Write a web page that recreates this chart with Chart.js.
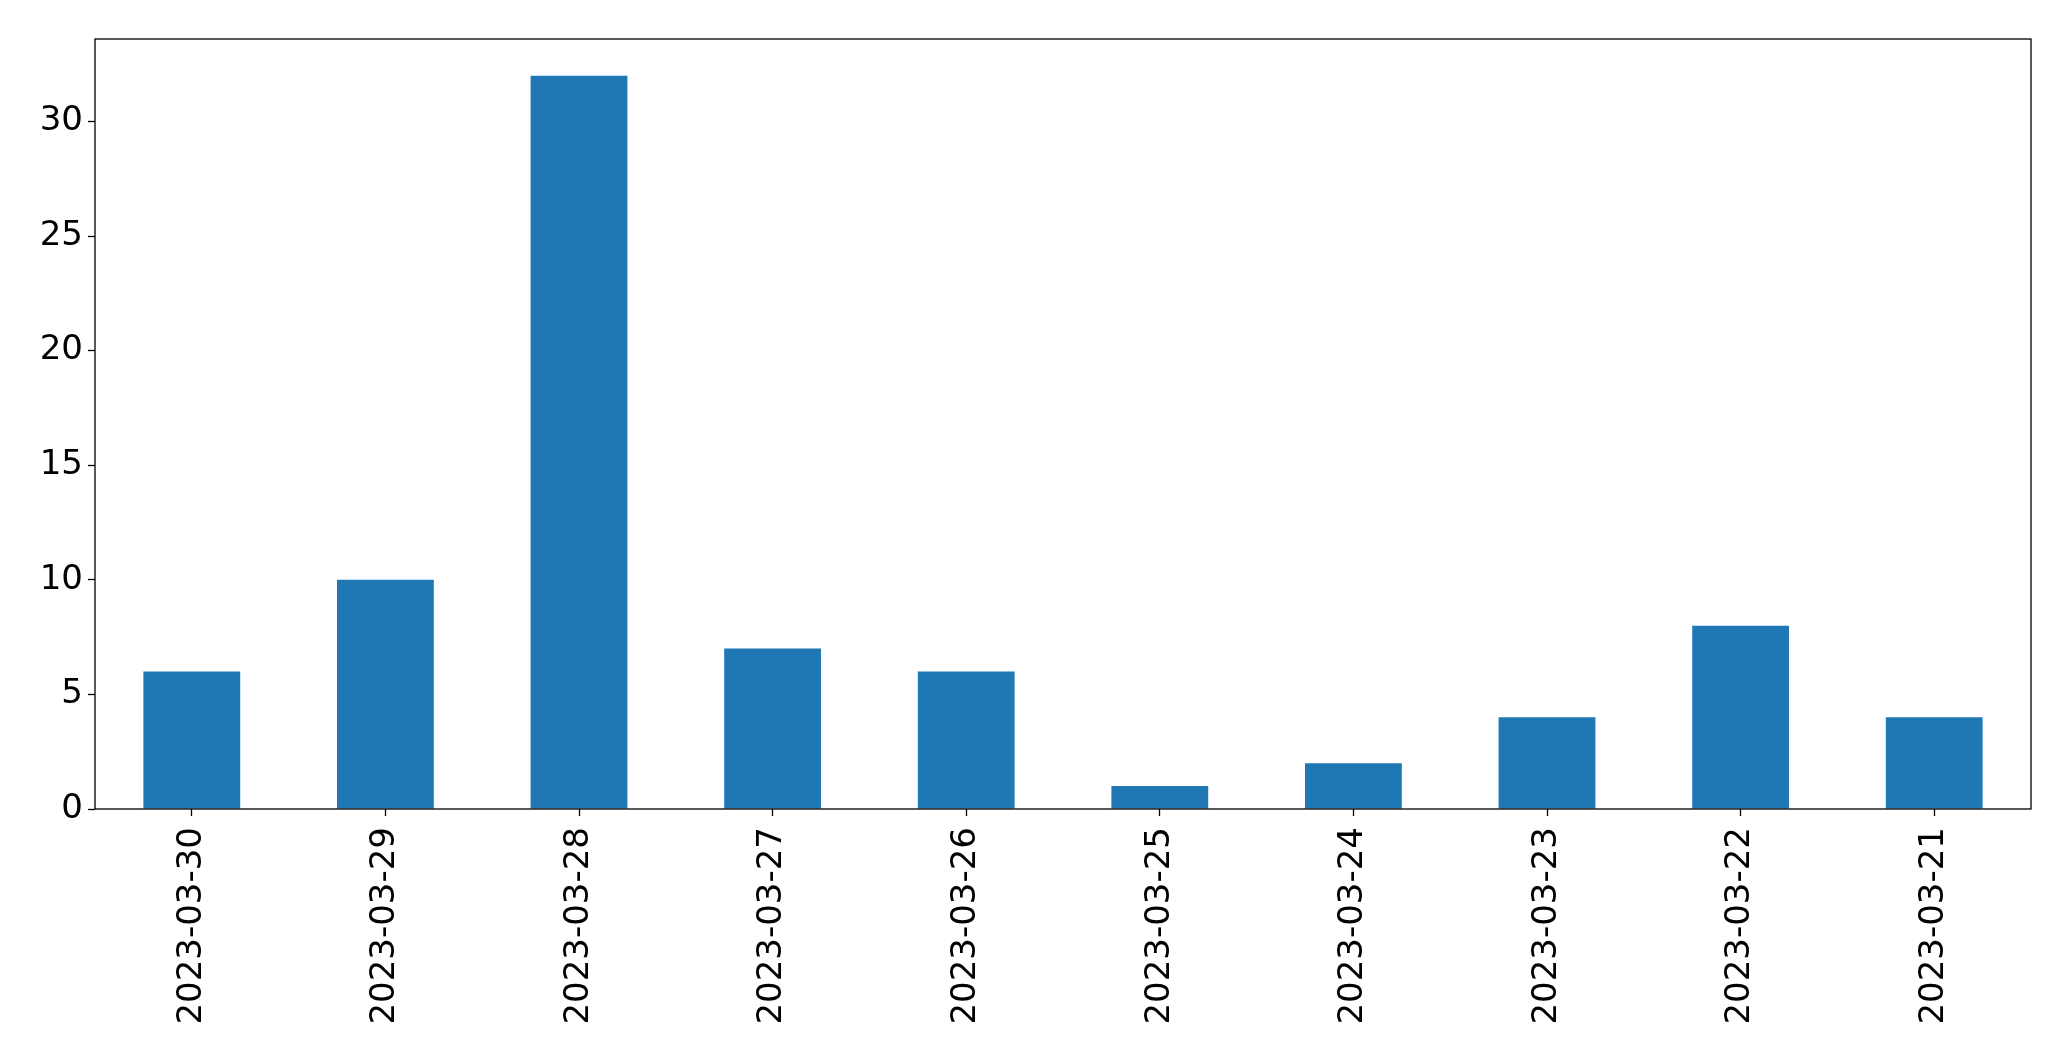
<!DOCTYPE html>
<html>
<head>
<meta charset="utf-8">
<script src="https://cdn.jsdelivr.net/npm/chart.js@4.4.0/dist/chart.umd.min.js"></script>
<style>
  body { margin: 0; background: #fff; }
  canvas { display: block; }
</style>
</head>
<body>
<canvas id="chart" width="2071" height="1061"></canvas>
<script>
let dates = ['2023-03-30', '2023-03-29', '2023-03-28', '2023-03-27', '2023-03-26',
             '2023-03-25', '2023-03-24', '2023-03-23', '2023-03-22', '2023-03-21'];
let counts = [6, 10, 32, 7, 6, 1, 2, 4, 8, 4];
let yTicks = [0, 5, 10, 15, 20, 25, 30];

// box round the plot, like matplotlib spines
const frame = {
    id: 'frame',
    afterDraw(chart) {
        const a = chart.chartArea;
        const c = chart.ctx;
        c.save();
        c.strokeStyle = '#000';
        c.lineWidth = 1.3;
        c.strokeRect(a.left, a.top, a.right - a.left, a.bottom - a.top);
        c.restore();
    }
};

const ctx = document.getElementById('chart');

new Chart(ctx, {
    type: 'bar',
    data: {
        labels: dates,
        datasets: [{
            data: counts,
            backgroundColor: '#1f77b4',
            categoryPercentage: 1,
            barPercentage: 0.5
        }]
    },
    options: {
        responsive: false,
        animation: false,
        layout: { padding: { top: 39, right: 40, left: 0, bottom: 0 } },
        plugins: { legend: { display: false }, tooltip: { enabled: false } },
        scales: {
            x: {
                offset: true,
                grid: { offset: false, drawOnChartArea: false, tickLength: 7, tickColor: '#000', tickWidth: 1.3 },
                border: { display: false },
                ticks: {
                    minRotation: 90, maxRotation: 90, autoSkip: false,
                    color: '#000', padding: 11,
                    font: { family: 'DejaVu Sans', size: 34 }
                },
                afterFit(scale) { scale.height = 252; }
            },
            y: {
                min: 0,
                max: 33.6,
                grid: { drawOnChartArea: false, tickLength: 7, tickColor: '#000', tickWidth: 1.3 },
                border: { display: false },
                ticks: {
                    color: '#000', padding: 5,
                    font: { family: 'DejaVu Sans', size: 34 }
                },
                afterBuildTicks(scale) { scale.ticks = yTicks.map(v => ({ value: v })); },
                afterFit(scale) { scale.width = 95; }
            }
        }
    },
    plugins: [frame]
});
</script>
</body>
</html>
